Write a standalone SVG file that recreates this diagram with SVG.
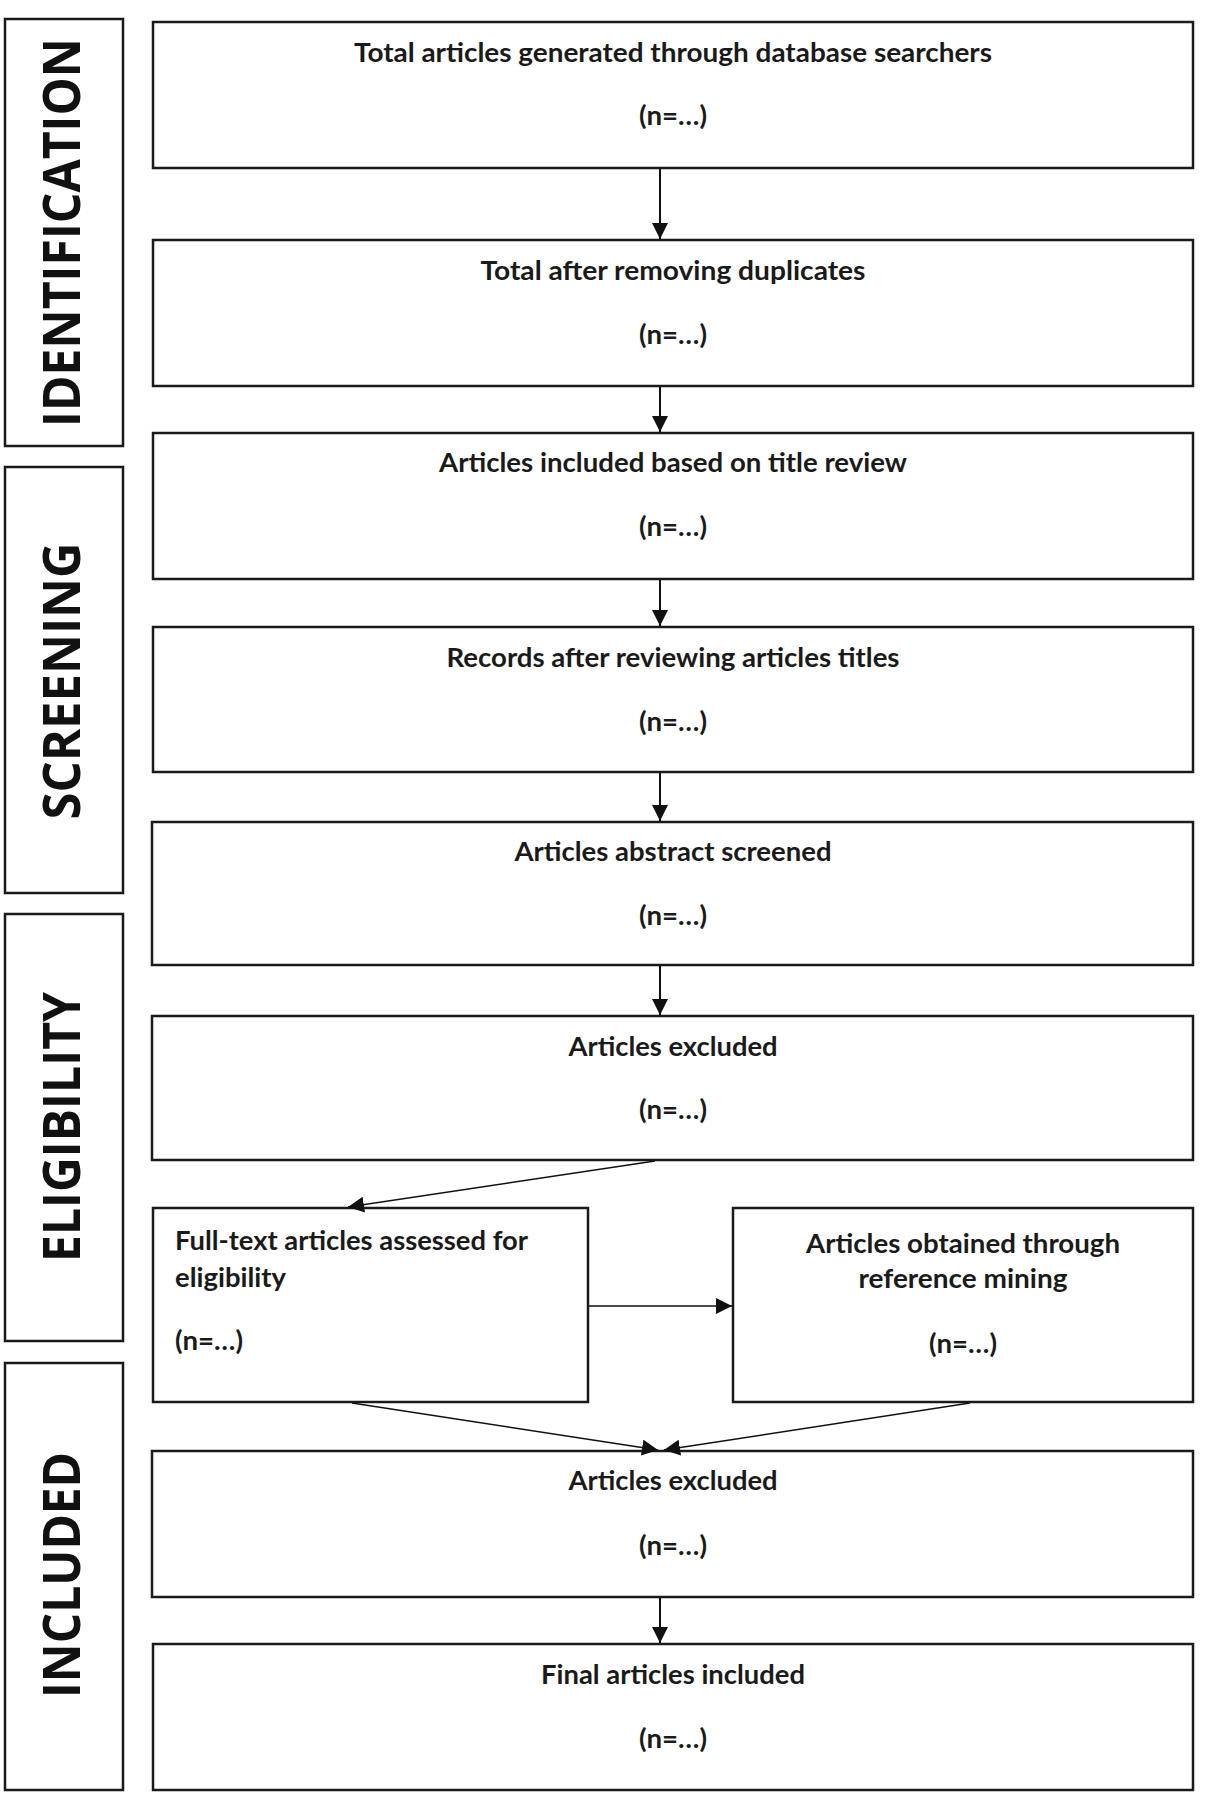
<svg xmlns="http://www.w3.org/2000/svg" width="1207" height="1800" viewBox="0 0 1207 1800">
<style>
.box{fill:#fff;stroke:#1a1a1a;stroke-width:2.5}
.phase{fill:#fff;stroke:#1a1a1a;stroke-width:2.5}
.t{font-family:Lato,"Liberation Sans",sans-serif;font-weight:bold;font-size:26px;fill:#1a1a1a}
.c{text-anchor:middle}
.ph{font-family:"Open Sans","Liberation Sans",sans-serif;font-weight:bold;font-size:52px;fill:#111;text-anchor:middle}
.ln{stroke:#111;stroke-width:2;fill:none}
.thin{stroke:#111;stroke-width:1.5;fill:none}
</style>
<defs>
<marker id="ah" markerUnits="userSpaceOnUse" markerWidth="16" markerHeight="16" refX="15" refY="7.5" orient="auto" viewBox="0 0 15 15">
<path d="M0,0 L15,7.5 L0,15 z" fill="#111"/>
</marker>
</defs>
<rect width="1207" height="1800" fill="#fff"/>

<g id="phase-identification">
<rect class="phase" x="5" y="19" width="118" height="427"/>
<text class="ph" x="80" y="232.5" transform="rotate(-90 80 232.5)" textLength="389" lengthAdjust="spacingAndGlyphs">IDENTIFICATION</text>
</g>
<g id="phase-screening">
<rect class="phase" x="5" y="467" width="118" height="426"/>
<text class="ph" x="80" y="681" transform="rotate(-90 80 681)" textLength="277" lengthAdjust="spacingAndGlyphs">SCREENING</text>
</g>
<g id="phase-eligibility">
<rect class="phase" x="5" y="914" width="118" height="427"/>
<text class="ph" x="80" y="1127" transform="rotate(-90 80 1127)" textLength="270" lengthAdjust="spacingAndGlyphs">ELIGIBILITY</text>
</g>
<g id="phase-included">
<rect class="phase" x="5" y="1363" width="118" height="427"/>
<text class="ph" x="80" y="1575" transform="rotate(-90 80 1575)" textLength="246" lengthAdjust="spacingAndGlyphs">INCLUDED</text>
</g>

<g id="n1">
<rect class="box" x="153" y="22" width="1040" height="146"/>
<text class="t c" x="673" y="62" textLength="638" lengthAdjust="spacingAndGlyphs">Total articles generated through database searchers</text>
<text class="t c" x="673" y="125" textLength="68" lengthAdjust="spacingAndGlyphs">(n=…)</text>
</g>
<g id="n2">
<rect class="box" x="153" y="240" width="1040" height="146"/>
<text class="t c" x="673" y="280" textLength="385" lengthAdjust="spacingAndGlyphs">Total after removing duplicates</text>
<text class="t c" x="673" y="344" textLength="68" lengthAdjust="spacingAndGlyphs">(n=…)</text>
</g>
<g id="n3">
<rect class="box" x="153" y="433" width="1040" height="146"/>
<text class="t c" x="673" y="472" textLength="468" lengthAdjust="spacingAndGlyphs">Articles included based on title review</text>
<text class="t c" x="673" y="536" textLength="68" lengthAdjust="spacingAndGlyphs">(n=…)</text>
</g>
<g id="n4">
<rect class="box" x="153" y="627" width="1040" height="145"/>
<text class="t c" x="673" y="667" textLength="453" lengthAdjust="spacingAndGlyphs">Records after reviewing articles titles</text>
<text class="t c" x="673" y="731" textLength="68" lengthAdjust="spacingAndGlyphs">(n=…)</text>
</g>
<g id="n5">
<rect class="box" x="152" y="822" width="1041" height="143"/>
<text class="t c" x="673" y="861" textLength="317" lengthAdjust="spacingAndGlyphs">Articles abstract screened</text>
<text class="t c" x="673" y="925" textLength="68" lengthAdjust="spacingAndGlyphs">(n=…)</text>
</g>
<g id="n6">
<rect class="box" x="152" y="1016" width="1041" height="144"/>
<text class="t c" x="673" y="1056" textLength="209" lengthAdjust="spacingAndGlyphs">Articles excluded</text>
<text class="t c" x="673" y="1119" textLength="68" lengthAdjust="spacingAndGlyphs">(n=…)</text>
</g>
<g id="n7">
<rect class="box" x="153" y="1208" width="435" height="194"/>
<text class="t" x="175" y="1250" textLength="353" lengthAdjust="spacingAndGlyphs">Full-text articles assessed for</text>
<text class="t" x="175" y="1287" textLength="111" lengthAdjust="spacingAndGlyphs">eligibility</text>
<text class="t" x="175" y="1350" textLength="68" lengthAdjust="spacingAndGlyphs">(n=…)</text>
</g>
<g id="n8">
<rect class="box" x="733" y="1208" width="460" height="194"/>
<text class="t c" x="963" y="1253" textLength="314" lengthAdjust="spacingAndGlyphs">Articles obtained through</text>
<text class="t c" x="963" y="1288" textLength="209" lengthAdjust="spacingAndGlyphs">reference mining</text>
<text class="t c" x="963" y="1353" textLength="68" lengthAdjust="spacingAndGlyphs">(n=…)</text>
</g>
<g id="n9">
<rect class="box" x="152" y="1451" width="1041" height="146"/>
<text class="t c" x="673" y="1490" textLength="209" lengthAdjust="spacingAndGlyphs">Articles excluded</text>
<text class="t c" x="673" y="1555" textLength="68" lengthAdjust="spacingAndGlyphs">(n=…)</text>
</g>
<g id="n10">
<rect class="box" x="153" y="1644" width="1040" height="146"/>
<text class="t c" x="673" y="1684" textLength="264" lengthAdjust="spacingAndGlyphs">Final articles included</text>
<text class="t c" x="673" y="1748" textLength="68" lengthAdjust="spacingAndGlyphs">(n=…)</text>
</g>

<g id="connectors">
<line class="ln" x1="660" y1="169" x2="660" y2="239" marker-end="url(#ah)"/>
<line class="ln" x1="660" y1="387" x2="660" y2="432" marker-end="url(#ah)"/>
<line class="ln" x1="660" y1="580" x2="660" y2="626" marker-end="url(#ah)"/>
<line class="ln" x1="660" y1="773" x2="660" y2="821" marker-end="url(#ah)"/>
<line class="ln" x1="660" y1="966" x2="660" y2="1015" marker-end="url(#ah)"/>
<line class="thin" x1="655" y1="1161" x2="348" y2="1207" marker-end="url(#ah)"/>
<line class="thin" x1="589" y1="1306" x2="732" y2="1306" marker-end="url(#ah)"/>
<line class="thin" x1="352" y1="1403" x2="658" y2="1450" marker-end="url(#ah)"/>
<line class="thin" x1="970" y1="1403" x2="664" y2="1450" marker-end="url(#ah)"/>
<line class="ln" x1="660" y1="1598" x2="660" y2="1643" marker-end="url(#ah)"/>
</g>
</svg>
